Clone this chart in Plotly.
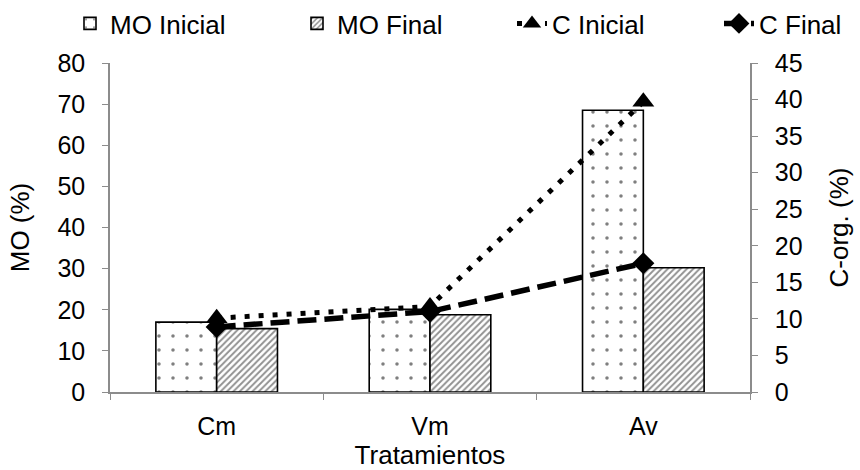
import plotly.graph_objects as go

# Treatments and measured values
tratamientos = ["Cm", "Vm", "Av"]
mo_inicial = [17.0, 20.1, 68.5]   # organic matter, initial (%)
mo_final = [15.4, 18.8, 30.2]     # organic matter, final (%)
c_inicial = [10.1, 11.7, 39.7]    # organic carbon, initial (%)
c_final = [8.9, 11.0, 17.6]       # organic carbon, final (%)

FONT = "Liberation Sans, Arial, sans-serif"
AXIS_GRAY = "#8c8c8c"
TICK_SIZE = 25
TITLE_SIZE = 26

fig = go.Figure()

fig.add_trace(go.Bar(
    x=tratamientos, y=mo_inicial, name="MO Inicial", legend="legend",
    marker=dict(
        color="white",
        line=dict(color="black", width=1.6),
        pattern=dict(shape=".", fgcolor="black", bgcolor="white",
                     size=14, solidity=0.05),
    ),
    yaxis="y",
))
fig.add_trace(go.Bar(
    x=tratamientos, y=mo_final, name="MO Final", legend="legend2",
    marker=dict(
        color="white",
        line=dict(color="black", width=1.6),
        pattern=dict(shape="/", fgcolor="#222222", bgcolor="white",
                     size=4.5, solidity=0.42),
    ),
    yaxis="y",
))
fig.add_trace(go.Scatter(
    x=tratamientos, y=c_inicial, name="C Inicial", legend="legend3",
    mode="lines+markers",
    line=dict(color="black", width=5, dash="5px,9px"),
    marker=dict(symbol="triangle-up", size=19, color="black"),
    yaxis="y2",
))
fig.add_trace(go.Scatter(
    x=tratamientos, y=c_final, name="C Final", legend="legend4",
    mode="lines+markers",
    line=dict(color="black", width=5.5, dash="19px,8px"),
    marker=dict(symbol="diamond", size=17, color="black"),
    yaxis="y2",
))


def legend_box(x):
    # one single-entry legend per series, laid out along the top row
    return dict(orientation="h", xref="container", yref="container",
                x=x, xanchor="left", y=1.0, yanchor="top",
                font=dict(size=TITLE_SIZE), itemwidth=30,
                bgcolor="rgba(0,0,0,0)")


fig.update_layout(
    width=860, height=470,
    margin=dict(l=110, r=110, t=63, b=78, autoexpand=False),
    paper_bgcolor="white", plot_bgcolor="white",
    font=dict(family=FONT, size=TICK_SIZE, color="black"),
    barmode="group", bargap=0.43, bargroupgap=0,
    showlegend=True,
    legend=legend_box(70 / 860),
    legend2=legend_box(297 / 860),
    legend3=legend_box(512 / 860),
    legend4=legend_box(719 / 860),
    xaxis=dict(
        title=dict(text="Tratamientos", standoff=12, font=dict(size=TITLE_SIZE)),
        showline=True, linecolor=AXIS_GRAY, linewidth=1.5,
        ticks="outside", tickson="boundaries", ticklen=6, tickcolor=AXIS_GRAY,
        ticklabelstandoff=11,
        showgrid=False, zeroline=False,
    ),
    yaxis=dict(
        title=dict(text="MO (%)", standoff=20, font=dict(size=TITLE_SIZE)),
        range=[0, 80], dtick=10,
        showline=True, linecolor=AXIS_GRAY, linewidth=1.5,
        ticks="outside", ticklen=6, tickcolor=AXIS_GRAY,
        ticklabelstandoff=12,
        showgrid=False, zeroline=False,
    ),
    yaxis2=dict(
        title=dict(text="C-org. (%)", standoff=28, font=dict(size=TITLE_SIZE)),
        range=[0, 45], dtick=5,
        overlaying="y", side="right",
        showline=True, linecolor=AXIS_GRAY, linewidth=1.5,
        ticks="outside", ticklen=6, tickcolor=AXIS_GRAY,
        ticklabelstandoff=12,
        showgrid=False, zeroline=False,
    ),
)

fig.write_html("out.html")
